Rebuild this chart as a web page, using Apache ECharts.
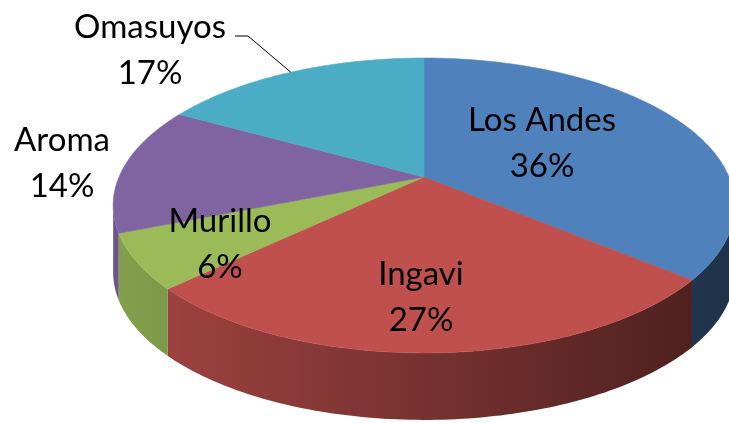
<!DOCTYPE html>
<html>
<head>
<meta charset="utf-8">
<script src="https://cdn.jsdelivr.net/npm/echarts@6/dist/echarts.min.js"></script>
<style>
  html, body { margin: 0; padding: 0; background: #fff; }
  #main { width: 729px; height: 423px; }
</style>
</head>
<body>
<div id="main"></div>
<script>
var regions = ["Los Andes", "Ingavi", "Murillo", "Aroma", "Omasuyos"];
var shares = [36, 27, 6, 14, 17];
var colors = ["#4F81BD", "#C0504D", "#9BBB59", "#8064A2", "#4BACC6"];

// tilted disc (Excel-like 3D pie with perspective), in pixels
var CX = 424, CY = 177, RX = 305, TILT = -107.8, PERSP = 0.193, DEPTH = 67;
var FONT = "Lato";
var labelAt = [[542, 143], [421, 297], [220, 244], [62, 163], [150, 50]];

var total = shares.reduce(function (a, b) { return a + b; }, 0);
var cum = 0;
var slices = shares.map(function (v, i) {
  var s = cum / total * 360;
  cum += v;
  return { name: regions[i], value: [s, cum / total * 360, v] };
});

function proj(deg, r, drop) {
  var a = deg * Math.PI / 180;
  var u = r * Math.sin(a), t = r * Math.cos(a);
  var w = 1 + PERSP * t;
  return [CX + RX * u / w, (CY + TILT * t) / w + (drop || 0)];
}

function shade(hex, f) {
  var n = parseInt(hex.slice(1), 16);
  var r = Math.round(((n >> 16) & 255) * f);
  var g = Math.round(((n >> 8) & 255) * f);
  var b = Math.round((n & 255) * f);
  return "rgb(" + r + "," + g + "," + b + ")";
}

// visible outer wall lies between the two silhouette points
var lim = Math.acos(-PERSP) * 180 / Math.PI;

function renderWall(params, api) {
  var i = params.dataIndex;
  var a0 = Math.max(api.value(0), lim), a1 = Math.min(api.value(1), 360 - lim);
  if (a0 >= a1) return { type: "group", children: [] };
  var top = [], bottom = [];
  var n = Math.max(2, Math.ceil(a1 - a0));
  for (var k = 0; k <= n; k++) {
    var d = a0 + (a1 - a0) * k / n;
    top.push(proj(d, 1));
    bottom.unshift(proj(d, 1, DEPTH));
  }
  var grad = new echarts.graphic.LinearGradient(105, 0, 735, 0, [
    { offset: 0, color: shade(colors[i], 0.86) },
    { offset: 0.5, color: shade(colors[i], 0.62) },
    { offset: 1, color: shade(colors[i], 0.38) }
  ], true);
  return {
    type: "polygon",
    shape: { points: top.concat(bottom) },
    style: { fill: grad }
  };
}

function renderTop(params, api) {
  var i = params.dataIndex;
  var s = api.value(0), e = api.value(1);
  var pts = [[CX, CY]];
  var n = Math.max(2, Math.ceil(e - s));
  for (var k = 0; k <= n; k++) pts.push(proj(s + (e - s) * k / n, 1));
  var children = [{
    type: "polygon",
    shape: { points: pts },
    style: { fill: colors[i], stroke: colors[i], lineWidth: 0.6 }
  }];
  children.push({
    type: "text",
    z2: 10,
    style: {
      x: labelAt[i][0], y: labelAt[i][1],
      text: regions[i] + "\n" + api.value(2) + "%",
      align: "center", verticalAlign: "middle",
      font: "33px " + FONT, lineHeight: 46, fill: "#000"
    }
  });
  if (regions[i] === "Omasuyos") {
    children.push({
      type: "polyline",
      z2: 10,
      shape: { points: [[235, 36], [248, 36], proj((s + e) / 2, 1)] },
      style: { stroke: "#000", lineWidth: 1, fill: null }
    });
  }
  return { type: "group", children: children };
}

var chart = echarts.init(document.getElementById("main"));
chart.setOption({
  animation: false,
  backgroundColor: "#fff",
  series: [
    { type: "custom", coordinateSystem: "none", renderItem: renderWall, data: slices, z: 1, silent: true },
    { type: "custom", coordinateSystem: "none", renderItem: renderTop, data: slices, z: 2, silent: true }
  ]
});
</script>
</body>
</html>
